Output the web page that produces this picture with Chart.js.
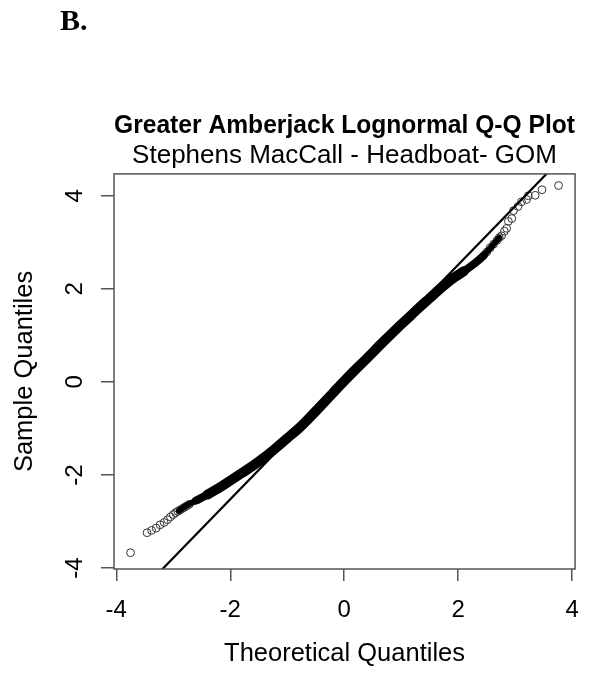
<!DOCTYPE html>
<html>
<head>
<meta charset="utf-8">
<script src="https://cdn.jsdelivr.net/npm/chart.js@4.4.1/dist/chart.umd.min.js"></script>
<style>
  html, body { margin: 0; padding: 0; background: #fff; }
  #wrap { width: 594px; height: 673px; }
</style>
</head>
<body>
<div id="wrap"><canvas id="qq"></canvas></div>
<script>
// tick labels
const xTicks = [-4, -2, 0, 2, 4];
const yTicks = [-4, -2, 0, 2, 4];

// lower tail, single circles (theoretical, sample)
const lowerTheo   = [-3.75, -3.46, -3.38, -3.30, -3.23, -3.16, -3.10, -3.05, -3.00, -2.96, -2.92, -2.88, -2.84, -2.80, -2.76, -2.72];
const lowerSample = [-3.67, -3.24, -3.19, -3.14, -3.07, -3.02, -2.96, -2.90, -2.85, -2.81, -2.78, -2.75, -2.72, -2.69, -2.66, -2.63];

// dense middle of the sample, read as the centre of the black band
const bandTheo   = [-2.90, -2.80, -2.60, -2.40, -2.20, -2.00, -1.80, -1.60, -1.40, -1.20, -1.00, -0.80, -0.674, -0.40, -0.20, 0.00, 0.20, 0.40, 0.674, 0.90, 1.10, 1.30, 1.50, 1.70, 1.90, 2.10, 2.30, 2.45, 2.55, 2.65, 2.72];
const bandSample = [-2.77, -2.68, -2.55, -2.42, -2.28, -2.12, -1.96, -1.80, -1.62, -1.42, -1.21, -1.00, -0.85, -0.50, -0.24, 0.02, 0.27, 0.51, 0.85, 1.12, 1.35, 1.58, 1.80, 2.02, 2.22, 2.38, 2.56, 2.72, 2.86, 3.00, 3.10];

// upper tail, single circles
const upperTheo   = [2.50, 2.56, 2.62, 2.68, 2.72, 2.76, 2.81, 2.85, 2.88, 2.94, 2.97, 3.05, 3.11, 3.20, 3.23, 3.35, 3.47, 3.76];
const upperSample = [2.79, 2.88, 2.96, 3.04, 3.10, 3.14, 3.24, 3.30, 3.45, 3.51, 3.68, 3.77, 3.87, 3.92, 4.00, 4.01, 4.13, 4.22];

// qqline end points
const lineTheo   = [-3.3, 3.7];
const lineSample = [-4.16, 4.66];

const pts = (xs, ys) => xs.map((x, i) => ({x: x, y: ys[i]}));
const AXIS_GREY = '#555';
const FONT = "'Liberation Sans', Arial, sans-serif";

// band gets thinner toward the tails, where the circles thin out
function bandWidth(c) {
  const x = c.p0.parsed.x;
  if (x < -2.6 || x >= 2.45) return 6;
  if (x < -2.4 || x >= 2.1) return 8;
  return 10;
}

const boxAndTag = {
  id: 'boxAndTag',
  afterDraw(chart) {
    const {ctx, chartArea: a} = chart;
    ctx.save();
    ctx.strokeStyle = AXIS_GREY;
    ctx.lineWidth = 1.5;
    ctx.strokeRect(a.left, a.top, a.right - a.left, a.bottom - a.top);
    ctx.fillStyle = '#000';
    ctx.font = "bold 30px 'Liberation Serif', 'Times New Roman', serif";
    ctx.textBaseline = 'alphabetic';
    ctx.fillText('B.', 60, 30);
    ctx.restore();
  }
};

new Chart(document.getElementById('qq'), {
  type: 'scatter',
  data: {
    datasets: [
      {
        data: pts(lineTheo, lineSample),
        showLine: true,
        borderColor: '#000',
        borderWidth: 2.2,
        pointRadius: 0,
        order: 0
      },
      {
        data: pts(bandTheo, bandSample),
        showLine: true,
        borderColor: '#000',
        borderWidth: 10,
        borderCapStyle: 'round',
        borderJoinStyle: 'round',
        cubicInterpolationMode: 'monotone',
        pointRadius: 0,
        segment: { borderWidth: bandWidth },
        order: 1
      },
      {
        data: pts(lowerTheo, lowerSample).concat(pts(upperTheo, upperSample)),
        pointRadius: 3.9,
        pointBorderWidth: 1,
        pointBorderColor: '#333',
        pointBackgroundColor: 'rgba(0,0,0,0)',
        order: 2
      }
    ]
  },
  options: {
    responsive: true,
    maintainAspectRatio: false,
    animation: false,
    events: [],
    layout: { padding: { top: 111, left: 0, right: 10, bottom: 0 } },
    plugins: {
      legend: { display: false },
      tooltip: { enabled: false },
      title: {
        display: true,
        fullSize: false,
        text: 'Greater Amberjack Lognormal Q-Q Plot',
        color: '#000',
        font: { family: FONT, size: 25, weight: 'bold', lineHeight: 1.2 },
        padding: { top: 0, bottom: 0 }
      },
      subtitle: {
        display: true,
        fullSize: false,
        text: 'Stephens MacCall - Headboat- GOM',
        color: '#000',
        font: { family: FONT, size: 26, lineHeight: 1.15 },
        padding: { top: 0, bottom: 3 }
      }
    },
    scales: {
      x: {
        type: 'linear',
        min: -4.04,
        max: 4.05,
        afterBuildTicks: s => { s.ticks = xTicks.map(v => ({value: v})); },
        afterFit: s => { s.height = 104; },
        border: { display: false },
        grid: { drawOnChartArea: false, drawTicks: true, tickLength: 12, tickColor: AXIS_GREY, lineWidth: 1.5 },
        ticks: { color: '#000', font: { family: FONT, size: 24 }, padding: 15, maxRotation: 0 },
        title: {
          display: true,
          text: 'Theoretical Quantiles',
          color: '#000',
          font: { family: FONT, size: 25.5, lineHeight: 1.2 },
          padding: { top: 0, bottom: 4 }
        }
      },
      y: {
        type: 'linear',
        min: -4.02,
        max: 4.47,
        afterBuildTicks: s => { s.ticks = yTicks.map(v => ({value: v})); },
        afterFit: s => { s.width = 114; },
        border: { display: false },
        grid: { drawOnChartArea: false, drawTicks: true, tickLength: 13, tickColor: AXIS_GREY, lineWidth: 1.5 },
        ticks: { color: '#000', font: { family: FONT, size: 24 }, padding: 15, minRotation: 90, maxRotation: 90, crossAlign: 'center' },
        title: {
          display: true,
          text: 'Sample Quantiles',
          color: '#000',
          font: { family: FONT, size: 25.5, lineHeight: 1.2 },
          padding: { top: 10, bottom: 0 }
        }
      }
    }
  },
  plugins: [boxAndTag]
});
</script>
</body>
</html>
